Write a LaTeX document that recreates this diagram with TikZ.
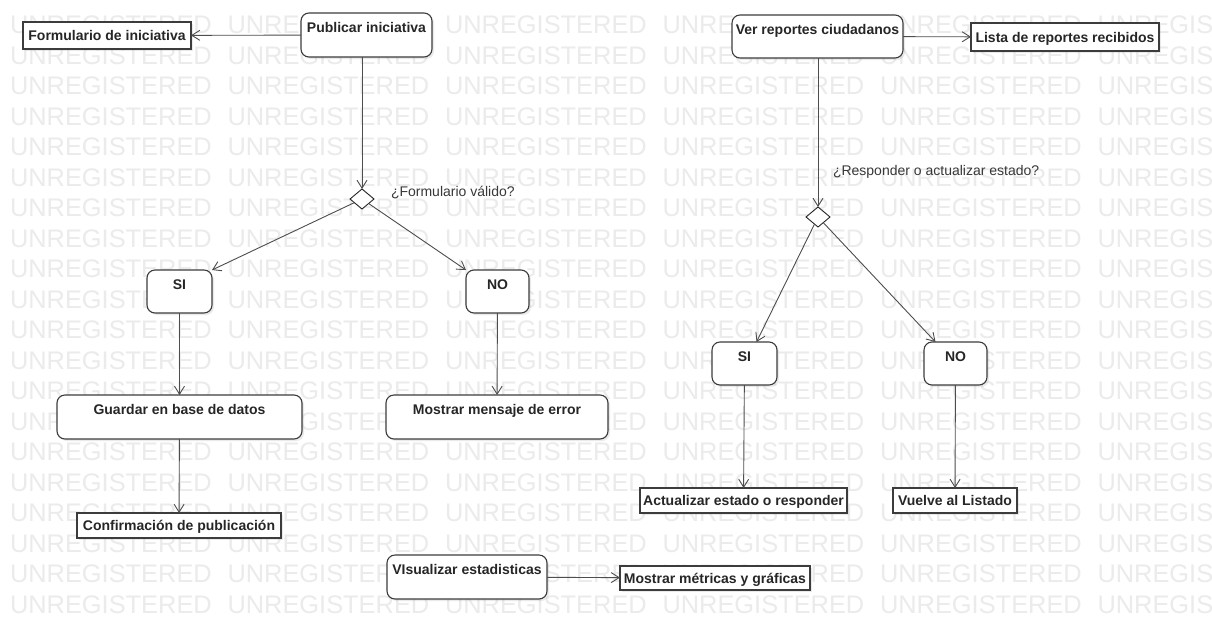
\documentclass[tikz,border=0pt]{standalone}
\usepackage{fontspec}
\setmainfont{Liberation Sans}
\usetikzlibrary{arrows.meta,shapes.geometric,shadows}
\definecolor{edgegray}{HTML}{4D4D4D}
\definecolor{boxline}{HTML}{3C3C3C}
\definecolor{ink}{HTML}{262626}
\definecolor{labelink}{HTML}{383838}
\definecolor{wmark}{HTML}{EBEBEB}

\begin{document}
\begin{tikzpicture}[x=1pt,y=-1pt,
  every node/.style={inner sep=0pt, outer sep=0pt},
  boxfont/.style={font=\fontsize{14pt}{16pt}\selectfont\bfseries, text=ink},
  softshadow/.style={drop shadow={shadow xshift=2pt,shadow yshift=-2pt,opacity=0.16}},
  % rounded activity box: text sits 19pt below the top edge
  activity/.style n args={2}{draw=boxline, line width=1.1pt, rounded corners=8pt,
     fill=white, softshadow, boxfont, minimum width=#1pt,
     text height=19pt, text depth=#2pt},
  % plain object box with the text centred
  object/.style n args={2}{draw=boxline, line width=1.4pt, fill=white, softshadow,
     boxfont, minimum width=#1pt, minimum height=#2pt,
     text height=10pt, text depth=0pt},
  decision/.style={diamond, draw=black!85, line width=0.9pt, fill=white,
     minimum width=24pt, minimum height=20pt},
  guard/.style={font=\fontsize{14pt}{16pt}\selectfont, text=labelink, anchor=base west},
  flow/.style={draw=edgegray, line width=0.9pt, -{Straight Barb[length=8pt,width=10pt]}},
  wm/.style={font=\fontsize{25.4pt}{27pt}\selectfont, text=wmark, anchor=base west}
]
\useasboundingbox (0,0) rectangle (1212,627);
\fill[white] (0,0) rectangle (1212,627);

% background watermark rows
\begin{scope}
  \clip (0,0) rectangle (1212,627);
  \foreach \k in {0,...,19} {
    \foreach \i in {0,...,5} {
      \node[wm] (wm-\k-\i) at ({10+217.5*\i},{33.9+30.5*\k}) {UNREGISTERED};
    }
  }
\end{scope}

% ---- publishing flow ----
\node[activity={131}{25}] (pub) at (366.5,35) {Publicar iniciativa};
\node[object={168}{27}] (form) at (107,35.5) {Formulario de iniciativa};
\node[decision] (d1) at (362,199) {};
\node[guard] (g1) at (391,196) {¿Formulario válido?};
\node[activity={65}{24}] (si1) at (179.5,291.5) {SI};
\node[activity={63}{24}] (no1) at (497.5,291.5) {NO};
\node[activity={245}{25}] (save) at (179.5,417) {Guardar en base de datos};
\node[activity={222}{25}] (err) at (497,417) {Mostrar mensaje de error};
\node[object={204}{25}] (conf) at (179,525.5) {Confirmación de publicación};

% ---- citizen reports flow ----
\node[activity={171}{24}] (ver) at (817.5,36.5) {Ver reportes ciudadanos};
\node[object={188}{28}] (list) at (1065,37) {Lista de reportes recibidos};
\node[decision] (d2) at (818,217) {};
\node[guard] (g2) at (833,175) {¿Responder o actualizar estado?};
\node[activity={65}{24}] (si2) at (744.5,363.5) {SI};
\node[activity={63}{24}] (no2) at (955.5,363.5) {NO};
\node[object={207}{25}] (upd) at (743.5,500.5) {Actualizar estado o responder};
\node[object={124}{25}] (back) at (955,500.5) {Vuelve al Listado};

% ---- statistics ----
\node[activity={160}{25}] (vis) at (467,577) {VIsualizar estadisticas};
\node[object={190}{24}] (met) at (715,578) {Mostrar métricas y gráficas};

% connectors
\draw[flow] (pub) -- (form);
\draw[flow] (pub.south -| d1) -- (d1.north);
\draw[flow] (d1) -- (si1.north east);
\draw[flow] (d1) -- (no1.north west);
\draw[flow] (si1) -- (save);
\draw[flow] (no1) -- (err);
\draw[flow] (save) -- (conf);

\draw[flow] (ver) -- (list);
\draw[flow] (ver.south -| d2) -- (d2.north);
\draw[flow] (d2) -- ([xshift=12pt]si2.north);
\draw[flow] (d2) -- ([xshift=-20pt]no2.north);
\draw[flow] (si2) -- (upd);
\draw[flow] (no2) -- (back);

\draw[flow] (vis) -- (met);
\end{tikzpicture}
\end{document}
